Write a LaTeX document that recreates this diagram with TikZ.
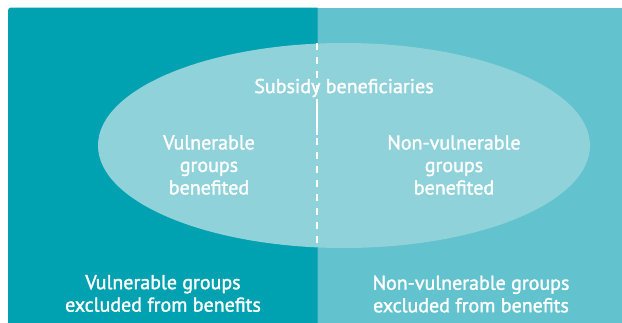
\documentclass[tikz,border=0pt]{standalone}
\usepackage{fontspec}
\usetikzlibrary{shapes.geometric}
\setmainfont{PT Sans}[FakeBold=1.6]
\definecolor{leftc}{HTML}{00A1B0}
\definecolor{rightc}{HTML}{62C2CD}
\definecolor{ellc}{HTML}{8FD2DA}
\begin{document}
\begin{tikzpicture}[x=1pt,y=-1pt,
  lbl/.style={text=white,align=center,font=\fontsize{20}{22.5}\selectfont,inner sep=0pt},
  divider/.style={draw=white,line width=1.5pt}]
\useasboundingbox (0,0) rectangle (622,322);
\fill[rightc] (317,7.5) rectangle (630,330);
\fill[leftc] (8,330) [rounded corners=3pt] -- (8,7.5) [sharp corners] -- (317.5,7.5) -- (317.5,330) -- cycle;
\node[fill=ellc,ellipse,minimum width=492pt,minimum height=205pt,inner sep=0pt] (ell) at (344,145.5) {};
\coordinate (dtop) at (317,43);
\coordinate (ds1) at (317,100);
\coordinate (ds2) at (317,135);
\coordinate (dbot) at (317,248);
\draw[divider,dash pattern=on 7pt off 7pt] (dtop) -- (ds1);
\draw[divider] (ds1) -- (ds2);
\draw[divider,dash pattern=on 7pt off 7pt,dash phase=-3pt] (ds2) -- (dbot);
\node[lbl] (sb) at (344,88) {Subsidy beneficiaries};
\node[lbl] (vb) at (209,165) {Vulnerable\\groups\\benefited};
\node[lbl] (nb) at (454,165) {Non-vulnerable\\groups\\benefited};
\node[lbl] (ve) at (163,293.5) {Vulnerable groups\\excluded from benefits};
\node[lbl] (ne) at (471,294) {Non-vulnerable groups\\excluded from benefits};
\end{tikzpicture}
\end{document}
